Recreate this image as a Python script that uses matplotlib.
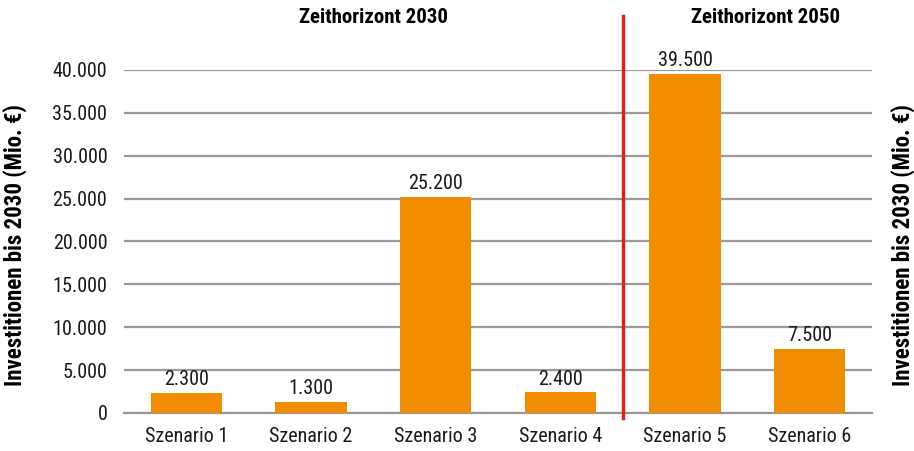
import matplotlib
matplotlib.use("Agg")
import matplotlib.pyplot as plt
from matplotlib.ticker import FuncFormatter

categories = ["Szenario 1", "Szenario 2", "Szenario 3", "Szenario 4", "Szenario 5", "Szenario 6"]
values = [2300, 1300, 25200, 2400, 39500, 7500]
yticks = [0, 5000, 10000, 15000, 20000, 25000, 30000, 35000, 40000]
group_labels = ["Zeithorizont 2030", "Zeithorizont 2050"]
ylabel = "Investitionen bis 2030 (Mio. €)"

plt.rcParams['font.family'] = ["Roboto Condensed", "DejaVu Sans"]

def fmt(v):
    return f"{int(v):,}".replace(",", ".")

fig = plt.figure(figsize=(9.14, 4.51), dpi=100)
ax = fig.add_axes([124/914, 1-413/451, 748/914, 343/451])

x = list(range(len(categories)))
ax.bar(x, values, width=0.57, color="#F28C00", zorder=3)
for xi, v in zip(x, values):
    ax.text(xi, v + 450, fmt(v), ha="center", va="bottom", fontsize=14.5, color="#1a1a1a")

ax.set_xlim(-0.5, 5.5)
ax.set_ylim(0, 40000)
ax.set_yticks(yticks)
ax.yaxis.set_major_formatter(FuncFormatter(lambda v, p: fmt(v)))
ax.set_xticks(x)
ax.set_xticklabels(categories)
ax.tick_params(axis="both", length=0, labelsize=14.5, colors="#1a1a1a")
ax.tick_params(axis="y", pad=12)
ax.tick_params(axis="x", pad=10)
ax.grid(axis="y", color="#9a9a9a", linewidth=1.6, zorder=0)
for s in ["top", "right", "left"]:
    ax.spines[s].set_visible(False)
ax.spines["bottom"].set_color("#9a9a9a")
ax.spines["bottom"].set_linewidth(1.6)

ax.plot([3.5, 3.5], [-0.0146, 1.157], color="#E32119", linewidth=2.5,
        transform=ax.get_xaxis_transform(), clip_on=False, zorder=5)

ax.text(1.5, 1.152, group_labels[0], transform=ax.get_xaxis_transform(),
        ha="center", va="center", fontsize=15, fontweight="bold")
ax.text(4.65, 1.152, group_labels[1], transform=ax.get_xaxis_transform(),
        ha="center", va="center", fontsize=15, fontweight="bold")

fig.text(15/914, 1-245/451, ylabel, rotation=90, ha="center", va="center",
         fontsize=16.5, fontweight="bold")
fig.text(903/914, 1-245/451, ylabel, rotation=90, ha="center", va="center",
         fontsize=16.5, fontweight="bold")

fig.savefig("out.png", dpi=100)
